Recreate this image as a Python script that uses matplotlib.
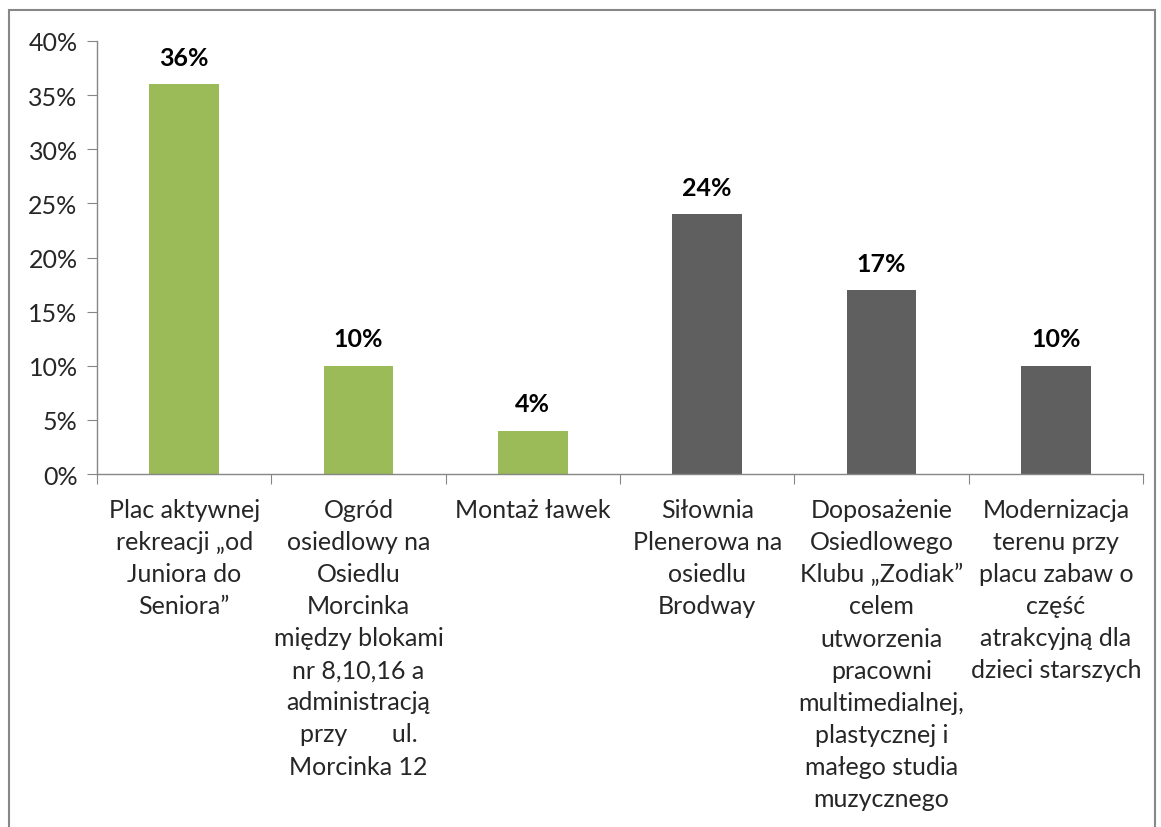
import numpy as np
import matplotlib
matplotlib.use("Agg")
import matplotlib.pyplot as plt
from matplotlib.patches import Rectangle
from matplotlib.ticker import FuncFormatter, FixedLocator

plt.rcParams['font.family'] = ['Lato', 'DejaVu Sans']

categories = [
    'Plac aktywnej\nrekreacji \u201eod\nJuniora do\nSeniora\u201d',
    'Ogród\nosiedlowy na\nOsiedlu\nMorcinka\nmiędzy blokami\nnr 8,10,16 a\nadministracją\nprzy       ul.\nMorcinka 12',
    'Montaż ławek',
    'Siłownia\nPlenerowa na\nosiedlu\nBrodway',
    'Doposażenie\nOsiedlowego\nKlubu \u201eZodiak\u201d\ncelem\nutworzenia\npracowni\nmultimedialnej,\nplastycznej i\nmałego studia\nmuzycznego',
    'Modernizacja\nterenu przy\nplacu zabaw o\nczęść\natrakcyjną dla\ndzieci starszych',
]
values = [36, 10, 4, 24, 17, 10]
colors = ['#9BBB59', '#9BBB59', '#9BBB59', '#5F5F5F', '#5F5F5F', '#5F5F5F']
yticks = [0, 5, 10, 15, 20, 25, 30, 35, 40]

fig = plt.figure(figsize=(11.61, 8.28), dpi=100)
ax = fig.add_axes([0.0836, 0.4263, 0.9009, 0.5230])

# outer chart frame (bottom edge runs off the image)
fig.patches.append(Rectangle((9 / 1161, -0.05), (1155 - 9) / 1161, 1.05 - 11 / 828,
                             transform=fig.transFigure, fill=False,
                             edgecolor='#878787', linewidth=1.5))

x = np.arange(len(values))
bars = ax.bar(x, values, width=0.4, color=colors)
for xi, v in zip(x, values):
    ax.annotate(f'{v}%', (xi, v), xytext=(0, 11), textcoords='offset points',
                ha='center', va='bottom', fontsize=18, fontweight='bold', color='#000000')

ax.set_xlim(-0.5, len(values) - 0.5)
ax.set_ylim(0, 40)
ax.set_yticks(yticks)
ax.yaxis.set_major_formatter(FuncFormatter(lambda v, p: f'{v:.0f}%'))
ax.tick_params(axis='y', direction='out', length=7, color='#868686',
               labelsize=18, labelcolor='#262626', pad=7)

ax.xaxis.set_major_locator(FixedLocator(np.arange(len(values) + 1) - 0.5))
ax.xaxis.set_minor_locator(FixedLocator(x))
ax.set_xticklabels([''] * (len(values) + 1))
ax.set_xticklabels(categories, minor=True, fontsize=18, color='#262626',
                   linespacing=1.48, va='top', ha='center')
ax.tick_params(axis='x', which='major', direction='out', length=7, color='#868686')
ax.tick_params(axis='x', which='minor', length=0, pad=17)

for s in ['top', 'right']:
    ax.spines[s].set_visible(False)
for s in ['left', 'bottom']:
    ax.spines[s].set_color('#868686')
    ax.spines[s].set_linewidth(1.0)

fig.savefig('out.png', dpi=100)
